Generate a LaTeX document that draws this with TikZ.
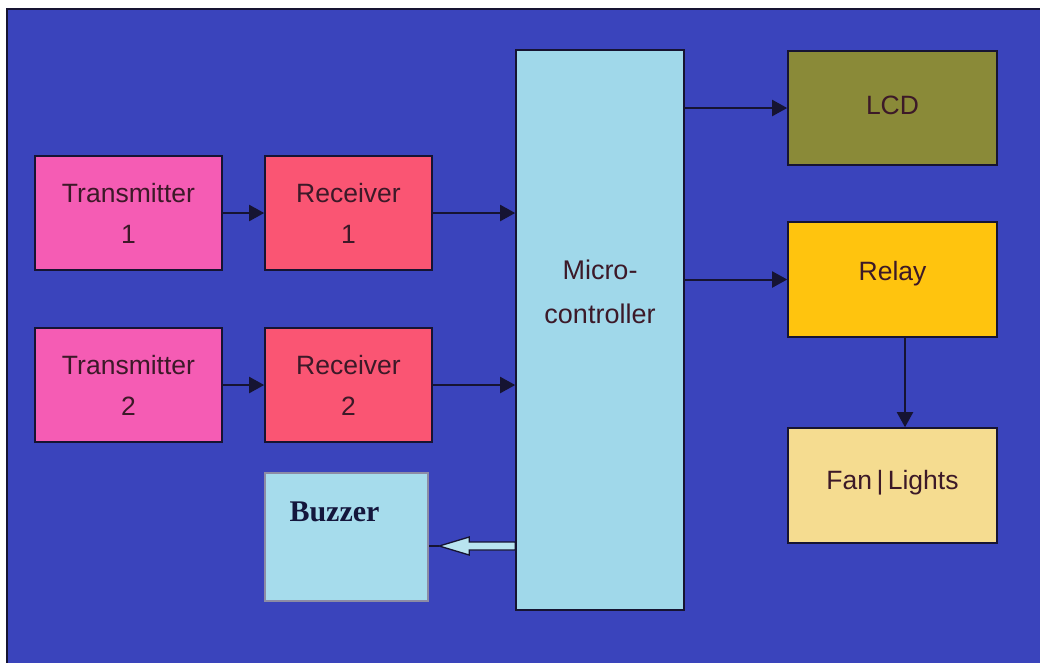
\documentclass[tikz,border=0pt]{standalone}
\usepackage{fontspec}
\setmainfont{Liberation Sans}
\newfontfamily\buzzfont{Liberation Serif}
\usetikzlibrary{arrows.meta}
\definecolor{bgblue}{RGB}{58,68,188}
\definecolor{edgedark}{RGB}{22,20,50}
\definecolor{txpink}{RGB}{245,92,180}
\definecolor{rxred}{RGB}{250,85,115}
\definecolor{mcblue}{RGB}{160,216,234}
\definecolor{lcdolive}{RGB}{138,138,56}
\definecolor{relayyel}{RGB}{255,196,14}
\definecolor{fancream}{RGB}{245,220,144}
\definecolor{buzzblue}{RGB}{166,220,236}
\definecolor{buzzedge}{RGB}{140,140,165}
\definecolor{txtdark}{RGB}{60,25,40}
\definecolor{buzztxt}{RGB}{20,22,60}
\definecolor{hollowfill}{RGB}{185,228,240}
\tikzset{
  blk/.style={draw=edgedark, line width=1.6pt, inner sep=0pt, align=center,
    text=txtdark, font=\fontsize{26.5}{41}\selectfont},
  conn/.style={draw=edgedark, line width=2pt, -{Triangle[length=15pt,width=16pt]}},
}
\begin{document}
\begin{tikzpicture}[x=1pt,y=-1pt]
\useasboundingbox (0,0) rectangle (1040,662);
\fill[white] (0,0) rectangle (1040,662);
\filldraw[fill=bgblue, draw=edgedark, line width=1.5pt] (7,9) rectangle (1045,668);
% blocks
\node[blk, fill=txpink, minimum width=187pt, minimum height=114pt] (tx1) at (128.5,213) {Transmitter\\1};
\node[blk, fill=rxred, minimum width=167pt, minimum height=114pt] (rx1) at (348.5,213) {Receiver\\1};
\node[blk, fill=txpink, minimum width=187pt, minimum height=114pt] (tx2) at (128.5,385) {Transmitter\\2};
\node[blk, fill=rxred, minimum width=167pt, minimum height=114pt] (rx2) at (348.5,385) {Receiver\\2};
\node[blk, fill=mcblue, minimum width=168pt, minimum height=560pt,
  label={[align=center, text=txtdark, font=\fontsize{27}{44}\selectfont, yshift=38pt]center:Micro-\\controller}] (mc) at (600,330) {};
\node[blk, fill=lcdolive, minimum width=209pt, minimum height=114pt,
  label={[text=txtdark, font=\fontsize{26.5}{30}\selectfont, yshift=3pt]center:LCD}] (lcd) at (892.5,108) {};
\node[blk, fill=relayyel, minimum width=209pt, minimum height=115pt,
  label={[text=txtdark, font=\fontsize{26.5}{30}\selectfont, yshift=6pt]center:Relay}] (relay) at (892.5,279.5) {};
\node[blk, fill=fancream, minimum width=209pt, minimum height=115pt,
  label={[text=txtdark, font=\fontsize{26.5}{30}\selectfont, yshift=3pt]center:Fan\,|\,Lights}] (fan) at (892.5,485.5) {};
\node[blk, fill=buzzblue, draw=buzzedge, minimum width=163pt, minimum height=128pt,
  label={[text=buzztxt, font=\buzzfont\bfseries\fontsize{30}{34}\selectfont, xshift=-12pt, yshift=25pt]center:Buzzer}] (buzz) at (346.5,537) {};
% connectors
\draw[conn] (tx1.east) -- (rx1.west);
\draw[conn] (rx1.east) -- (rx1.east -| mc.west);
\draw[conn] (tx2.east) -- (rx2.west);
\draw[conn] (rx2.east) -- (rx2.east -| mc.west);
\draw[conn] (lcd.west -| mc.east) -- (lcd.west);
\draw[conn] (relay.west -| mc.east) -- (relay.west);
\draw[conn] ([xshift=12.5pt]relay.south) -- ([xshift=12.5pt]fan.north);
% hollow arrow to buzzer
\coordinate (ba) at (mc.west |- 0,546);
\filldraw[fill=hollowfill, draw=edgedark, line width=1.3pt]
  (ba) ++(0,-4) -- ++(-46,0) -- ++(0,-5) -- ++(-30,9) -- ++(30,9) -- ++(0,-5) -- ++(46,0) -- cycle;
\draw[edgedark, line width=1.6pt] ([xshift=-76pt]ba) -- (buzz.east |- ba);
\end{tikzpicture}
\end{document}
